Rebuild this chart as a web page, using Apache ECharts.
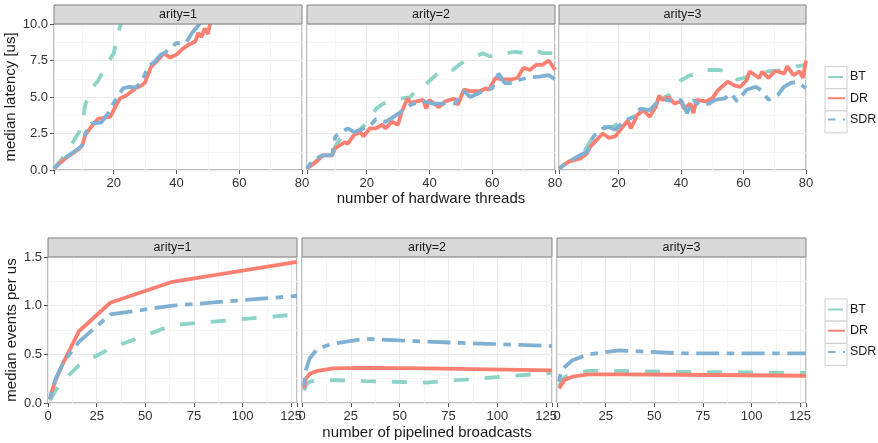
<!DOCTYPE html>
<html>
<head>
<meta charset="utf-8">
<script src="https://cdn.jsdelivr.net/npm/echarts@6/dist/echarts.min.js"></script>
<style>
  html, body { margin: 0; padding: 0; background: #fff; }
  #chart { width: 878px; height: 443px; }
</style>
</head>
<body>
<div id="chart"></div>
<script>
// series names and colours (ggplot Set3-like)
const seriesNames = ['BT', 'DR', 'SDR']
const arities = ['arity=1', 'arity=2', 'arity=3']

// top row: median latency [us] vs number of hardware threads, [threads, latency]
const latA1_BT = [[1,0.1],[4,0.9],[7,1.9],[9,2.6],[10,3.3],[11,4.5],[13,5.6],[15,6.1],[16,6.5],[18,7.3],[20,8.0],[21,8.9],[22,9.8],[23,10.4]]
const latA1_DR = [[1,0.1],[3,0.5],[5,0.85],[7,1.15],[9,1.45],[10,1.7],[11,2.4],[13,3.0],[15,3.5],[19,3.65],[20,4.1],[22,4.9],[24,5.1],[27,5.6],[29,5.8],[30,6.0],[32,7.1],[34,7.5],[36,8.0],[38,7.7],[40,7.9],[42,8.3],[44,8.6],[46,8.8],[47,9.4],[48,9.1],[49,9.7],[50,9.3],[51,10.3]]
const latA1_SDR = [[1,0.1],[3,0.5],[5,0.9],[7,1.2],[9,1.5],[10,1.7],[11,2.5],[13,3.2],[16,3.25],[18,3.8],[20,4.6],[21,4.9],[23,5.6],[25,5.7],[27,5.65],[29,6.05],[31,7.1],[33,7.4],[35,7.9],[36,8.0],[38,8.3],[40,8.7],[42,8.65],[43,8.7],[45,9.4],[47,9.9],[48,10.2]]

const latA2_BT = [[1,0.1],[5,0.8],[9,1.25],[10,1.6],[13,2.6],[17,2.6],[21,3.4],[23,4.2],[25,4.5],[28,4.8],[30,4.85],[34,5.0],[36,5.6],[39,5.9],[43,6.7],[46,6.6],[50,7.3],[53,7.6],[57,8.0],[59,7.8],[62,7.8],[65,8.0],[67,8.1],[71,8.0],[74,8.2],[76,8.0],[80,8.0]]
const latA2_DR = [[1,0.1],[4,0.57],[6,1.0],[9,1.0],[10,1.5],[13,1.9],[14,1.8],[16,2.4],[18,2.6],[19,2.3],[21,2.85],[23,2.85],[25,3.1],[26,2.85],[28,3.3],[30,3.1],[31,3.9],[33,4.9],[34,4.6],[36,4.7],[38,4.8],[39,4.2],[40,4.8],[43,4.3],[45,4.7],[48,4.9],[49,4.45],[51,5.5],[53,5.4],[56,5.4],[58,5.6],[59,5.5],[61,6.3],[63,6.2],[66,6.2],[68,6.3],[70,7.0],[72,6.85],[74,7.2],[76,7.2],[78,7.5],[80,6.85]]
const latA2_SDR = [[1,0.1],[3,0.7],[6,1.0],[9,1.0],[10,2.3],[14,2.85],[16,2.6],[18,2.75],[21,3.0],[23,3.5],[26,3.3],[28,3.55],[31,4.0],[33,4.35],[35,4.55],[38,4.7],[41,4.55],[44,4.55],[48,4.55],[51,5.4],[53,5.0],[57,5.4],[60,5.6],[62,6.6],[64,5.95],[67,5.95],[69,6.2],[72,6.35],[75,6.4],[78,6.5],[80,6.2]]

const latA3_BT = [[1,0.1],[9,1.25],[12,2.3],[15,2.95],[18,2.95],[22,3.4],[26,3.75],[29,4.35],[31,4.8],[34,4.9],[36,5.1],[38,5.5],[40,6.15],[43,6.5],[45,6.5],[48,6.85],[52,6.85],[55,6.75],[58,6.2],[60,6.3],[64,6.6],[68,6.75],[73,6.85],[77,7.1],[80,7.2]]
const latA3_DR = [[1,0.1],[4,0.57],[8,0.8],[10,1.15],[11,1.6],[13,2.05],[15,2.5],[17,2.2],[19,2.3],[21,2.85],[23,3.4],[24,2.85],[26,3.75],[28,4.1],[30,3.65],[32,4.35],[33,5.1],[34,4.8],[36,5.0],[38,4.55],[40,4.7],[41,4.2],[43,4.55],[44,3.9],[45,4.8],[48,4.7],[50,4.9],[52,5.5],[55,6.05],[57,5.8],[59,5.7],[61,6.15],[62,6.75],[65,6.3],[66,6.75],[68,6.3],[70,6.75],[71,6.75],[73,6.6],[74,7.1],[76,6.5],[78,6.75],[79,6.3],[80,7.5]]
const latA3_SDR = [[1,0.1],[4,0.57],[9,1.15],[10,1.25],[12,2.3],[15,2.85],[17,2.95],[19,2.75],[22,3.4],[25,3.65],[27,4.2],[30,4.1],[32,4.55],[35,4.8],[38,4.7],[40,4.8],[42,3.9],[44,4.8],[46,4.45],[49,4.55],[51,4.8],[54,4.9],[56,5.25],[58,4.7],[61,5.5],[64,5.7],[66,5.4],[68,4.8],[71,5.15],[73,5.7],[75,5.95],[77,6.05],[80,5.6]]

// bottom row: median events per us vs number of pipelined broadcasts
const pipelined = [1, 2, 4, 8, 16, 32, 64, 128]
const evA1_BT = [0.03, 0.06, 0.13, 0.23, 0.39, 0.56, 0.80, 0.91]
const evA1_DR = [0.04, 0.12, 0.24, 0.42, 0.74, 1.03, 1.245, 1.45]
const evA1_SDR = [0.04, 0.13, 0.25, 0.42, 0.63, 0.91, 1.00, 1.10]
const evA2_BT = [0.13, 0.18, 0.22, 0.235, 0.235, 0.225, 0.21, 0.31]
const evA2_DR = [0.15, 0.25, 0.30, 0.33, 0.355, 0.36, 0.355, 0.335]
const evA2_SDR = [0.18, 0.34, 0.46, 0.56, 0.61, 0.66, 0.63, 0.585]
const evA3_BT = [0.165, 0.22, 0.27, 0.295, 0.33, 0.33, 0.32, 0.31]
const evA3_DR = [0.15, 0.18, 0.24, 0.27, 0.295, 0.295, 0.29, 0.28]
const evA3_SDR = [0.22, 0.32, 0.37, 0.44, 0.50, 0.54, 0.51, 0.51]

const colors = { BT: '#8dd3c7', DR: '#fb8072', SDR: '#80b1d3' }
const dashes = { BT: [15, 16], DR: 'solid', SDR: [7.5, 7.5, 23, 7.5] }

const FONT = "'Liberation Sans', Arial, sans-serif"

const panels = [
  { left: 54, top: 24, width: 248, height: 146 },
  { left: 307, top: 24, width: 248, height: 146 },
  { left: 559, top: 24, width: 247, height: 146 },
  { left: 48, top: 257, width: 249, height: 146 },
  { left: 302, top: 257, width: 250, height: 146 },
  { left: 557, top: 257, width: 249, height: 146 }
]

const topData = [
  { BT: latA1_BT, DR: latA1_DR, SDR: latA1_SDR },
  { BT: latA2_BT, DR: latA2_DR, SDR: latA2_SDR },
  { BT: latA3_BT, DR: latA3_DR, SDR: latA3_SDR }
]
const bottomData = [
  { BT: evA1_BT, DR: evA1_DR, SDR: evA1_SDR },
  { BT: evA2_BT, DR: evA2_DR, SDR: evA2_SDR },
  { BT: evA3_BT, DR: evA3_DR, SDR: evA3_SDR }
]

const chart = echarts.init(document.getElementById('chart'))

const gridLine = { lineStyle: { color: '#ebebeb', width: 1 } }
const minorLine = { show: true, lineStyle: { color: '#f5f5f5', width: 1 } }
const tickStyle = { show: true, length: 4, lineStyle: { color: '#555' } }
const labelStyle = { color: '#333', fontSize: 13, fontFamily: FONT }

const grid = panels.map(p => ({
  left: p.left, top: p.top, width: p.width, height: p.height,
  show: true, borderColor: '#7f7f7f', borderWidth: 1, backgroundColor: '#fff'
}))

const xAxis = panels.map((p, i) => {
  const isTop = i < 3
  const ax = {
    type: 'value', gridIndex: i,
    axisLine: { show: false },
    axisTick: tickStyle,
    splitLine: gridLine,
    minorTick: { show: false, splitNumber: 2 },
    minorSplitLine: minorLine,
    axisLabel: Object.assign({}, labelStyle, {
      margin: 7,
      formatter: v => (isTop ? v % 20 === 0 : v % 25 === 0) ? String(v) : ''
    })
  }
  if (isTop) {
    ax.min = 1; ax.max = 80; ax.splitNumber = 4
  } else {
    ax.min = 0; ax.max = 128; ax.interval = 25
  }
  if (i === 1) {
    ax.name = 'number of hardware threads'
    ax.nameGap = 21
  }
  if (i === 4) {
    ax.name = 'number of pipelined broadcasts'
    ax.nameGap = 22
  }
  if (ax.name) {
    ax.nameLocation = 'middle'
    ax.nameTextStyle = { fontSize: 15, color: '#1a1a1a', fontFamily: FONT }
  }
  return ax
})

const yAxis = panels.map((p, i) => {
  const isTop = i < 3
  const first = i === 0 || i === 3
  const ax = {
    type: 'value', gridIndex: i,
    min: 0, max: isTop ? 10 : 1.5, interval: isTop ? 2.5 : 0.5,
    axisLine: { show: false },
    axisTick: first ? tickStyle : { show: false },
    splitLine: gridLine,
    minorTick: { show: false, splitNumber: 2 },
    minorSplitLine: minorLine,
    axisLabel: first ? Object.assign({}, labelStyle, { margin: 6, formatter: v => v.toFixed(1) }) : { show: false }
  }
  if (first) {
    ax.name = isTop ? 'median latency [us]' : 'median events per us'
    ax.nameLocation = 'middle'
    ax.nameGap = isTop ? 34 : 29
    ax.nameTextStyle = { fontSize: 15, color: '#1a1a1a', fontFamily: FONT }
  }
  return ax
})

const series = []
topData.forEach((d, k) => {
  seriesNames.forEach(name => {
    series.push({
      type: 'line', name, xAxisIndex: k, yAxisIndex: k,
      data: d[name], symbol: 'none', showSymbol: false,
      color: colors[name],
      lineStyle: { color: colors[name], width: 3.8, type: dashes[name], cap: 'butt' }
    })
  })
})
bottomData.forEach((d, k) => {
  seriesNames.forEach(name => {
    series.push({
      type: 'line', name, xAxisIndex: k + 3, yAxisIndex: k + 3,
      data: pipelined.map((x, j) => [x, d[name][j]]), symbol: 'none', showSymbol: false,
      color: colors[name],
      lineStyle: { color: colors[name], width: 3.8, type: dashes[name], cap: 'butt' }
    })
  })
})

// facet strips and legend key boxes
const graphic = []
panels.forEach((p, i) => {
  graphic.push({
    type: 'rect', z: 5,
    shape: { x: p.left, y: p.top - 19, width: p.width, height: 19 },
    style: { fill: '#d9d9d9', stroke: '#7f7f7f', lineWidth: 1 }
  })
  graphic.push({
    type: 'text', z: 6,
    x: p.left + p.width / 2, y: p.top - 9.5,
    style: { text: arities[i % 3], fill: '#1a1a1a', font: '12.5px ' + FONT, textAlign: 'center', textVerticalAlign: 'middle' }
  })
})
;[66.5, 299].forEach(top => {
  for (let k = 0; k < 3; k++) {
    graphic.push({
      type: 'rect', z: 0,
      shape: { x: 825, y: top + k * 22.2, width: 22, height: 22 },
      style: { fill: '#fff', stroke: '#d0d0d0', lineWidth: 1 }
    })
  }
})

const legendBase = {
  orient: 'vertical', left: 827, padding: 0, itemWidth: 17, itemHeight: 14, itemGap: 8.2,
  data: seriesNames, selectedMode: false,
  itemStyle: { opacity: 0 },
  textStyle: { fontSize: 12.5, color: '#1a1a1a', fontFamily: FONT }
}

chart.setOption({
  animation: false,
  textStyle: { fontFamily: FONT },
  grid, xAxis, yAxis, series, graphic,
  legend: [
    Object.assign({}, legendBase, { top: 70.5 }),
    Object.assign({}, legendBase, { top: 303 })
  ]
})
</script>
</body>
</html>
